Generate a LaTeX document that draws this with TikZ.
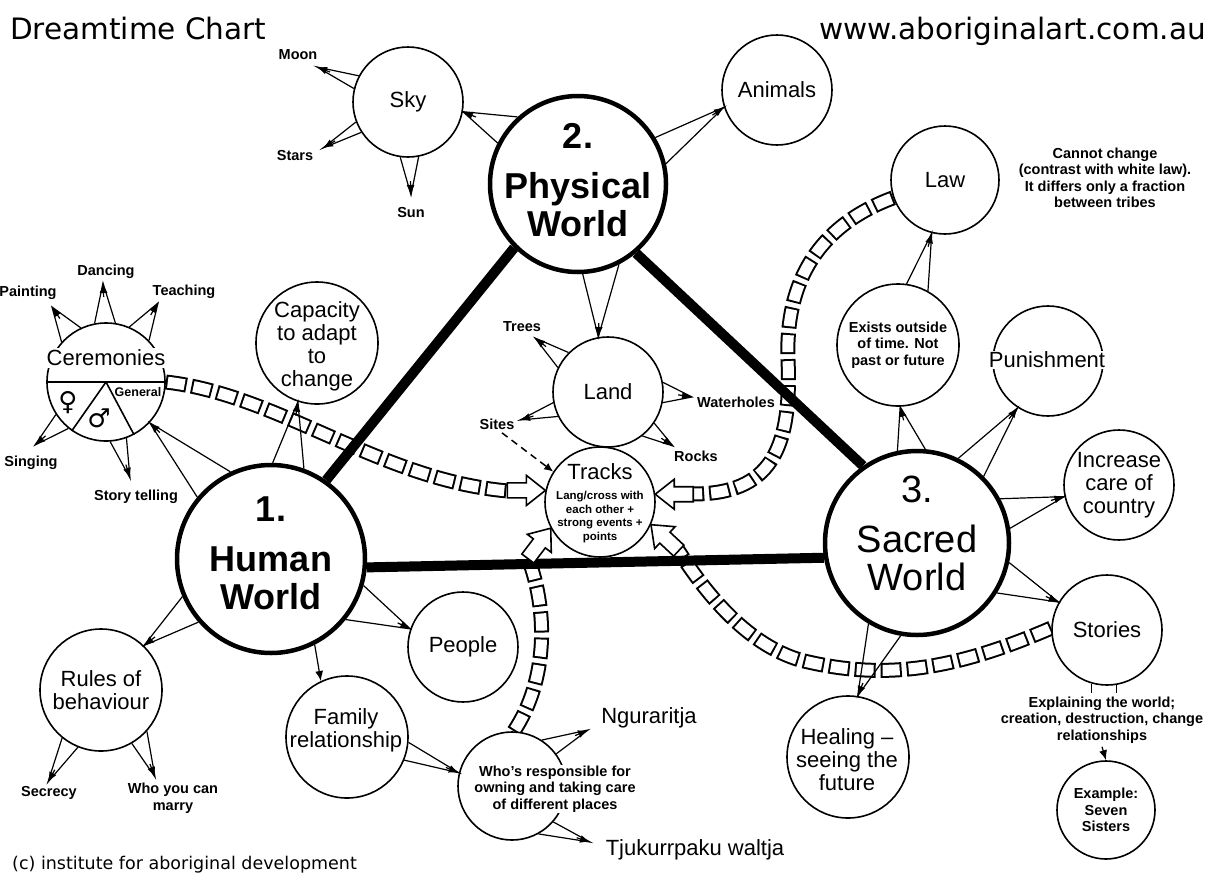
\documentclass[tikz,border=0pt]{standalone}
\usepackage{fontspec}
\setmainfont{Liberation Sans}
\newfontfamily\webfont{DejaVu Sans}
\usetikzlibrary{arrows.meta,calc,backgrounds}

\newcommand{\fanarrow}[3]{%
  \coordinate (fanmid) at ($(#1)!.5!(#2)$);
  \draw[fanline] (#1) -- (#3) -- (#2);
  \draw[fanhead] ($(#3)!14pt!(fanmid)$) -- (#3);
}
\newcommand{\blockarrow}[2]{%
  \draw[line width=1.6pt, fill=white, line join=miter, shift={(#1)}, rotate=#2]
    (0,0) -- (-19,-15) -- (-19,-7.5) -- (-38,-7.5) -- (-38,7.5) -- (-19,7.5) -- (-19,15) -- cycle;
}

\begin{document}
\begin{tikzpicture}[x=1pt, y=-1pt,
    bubble/.style={circle, draw, fill=white, line width=1.6pt, inner sep=0pt, minimum size=#1},
    world/.style={circle, draw, fill=white, line width=4.5pt, inner sep=0pt, minimum size=#1},
    bigtxt/.style={align=center, font=\fontsize{36}{38}\selectfont\bfseries},
    midtxt/.style={align=center, font=\fontsize{22}{23}\selectfont},
    smalltxt/.style={align=center, font=\fontsize{14.5}{16.5}\selectfont\bfseries},
    tinytxt/.style={align=center, font=\fontsize{11.5}{13.6}\selectfont\bfseries},
    fanline/.style={line width=1.2pt},
    fanhead/.style={line width=1.2pt, -{Latex[length=10pt, width=8pt]}},
    thickline/.style={line width=10pt},
    chainlink/.style={line width=15pt, dash pattern=on 21pt off 5pt,
      postaction={draw=white, line width=11pt, dash pattern=on 17pt off 9pt, dash phase=24pt}}]
  \useasboundingbox (0,0) rectangle (1213,876);

  \node[anchor=base west, inner sep=0pt, font=\webfont\fontsize{29.5}{30}\selectfont] (title) at (10,39) {Dreamtime Chart};
  \node[anchor=base east, inner sep=0pt, font=\webfont\fontsize{29.5}{30}\selectfont] (site) at (1206,39) {www.aboriginalart.com.au};
  \node[anchor=base west, inner sep=0pt, font=\webfont\fontsize{17.5}{18}\selectfont] (credit) at (12,869) {(c) institute for aboriginal development};

  \node[world=176pt] (phys) at (578,184) {};
  \node[world=188pt] (human) at (271,559) {};
  \node[world=184pt] (sacred) at (917,543) {};
  \node[bigtxt] (physT) at (578,180) {2.\\[12pt]Physical\\World};
  \node[bigtxt] (humanT) at (271,553) {1.\\[12pt]Human\\World};
  \node[bigtxt, font=\fontsize{38}{38}\selectfont] (sacredT) at (917,533) {3.\\[12pt]Sacred\\World};

  \node[bubble=110pt, midtxt] (sky) at (408,102) {Sky};
  \node[bubble=110pt, midtxt] (animals) at (777,90) {Animals};
  \node[bubble=110pt, midtxt] (land) at (608,392) {Land};
  \node[bubble=110pt] (tracks) at (600,502) {};
  \node[midtxt] (tracksT) at (600,472) {Tracks};
  \node[tinytxt] (tracksnote) at (600,517) {Lang/cross with\\each other +\\strong events +\\points};
  \node[bubble=108pt, midtxt] (law) at (945,180) {Law};
  \node[bubble=122pt, smalltxt] (exists) at (898,345) {Exists outside\\of time. Not\\past or future};
  \node[bubble=110pt] (punish) at (1048,361) {};
  \node[midtxt, fill=white, inner sep=1pt] (punishT) at (1047,360) {Punishment};
  \node[bubble=110pt, midtxt] (increase) at (1119,485) {Increase\\care of\\country};
  \node[bubble=110pt, midtxt] (stories) at (1107,630) {Stories};
  \node[bubble=98pt, smalltxt] (example) at (1106,810) {Example:\\Seven\\Sisters};
  \node[bubble=122pt] (healing) at (848,757) {};
  \node[midtxt] (healingT) at (847,760) {Healing --\\seeing the\\future};
  \node[bubble=122pt] (capacity) at (317,343) {};
  \node[midtxt] (capacityT) at (317,346) {Capacity\\to adapt\\to\\change};
  \node[bubble=122pt, midtxt] (rules) at (101,690) {Rules of\\behaviour};
  \node[bubble=122pt] (family) at (347,737) {};
  \node[midtxt] (familyT) at (346,730) {Family\\relationship};
  \node[bubble=110pt, midtxt] (people) at (463,647) {People};
  \node[bubble=108pt] (whos) at (512,786) {};
  \node[smalltxt, fill=white, inner sep=1pt] (whosT) at (555,789) {Who's responsible for\\owning and taking care\\of different places};

  \node[bubble=118pt] (cer) at (106,382) {};
  \draw[line width=1.6pt] (cer.west) -- (cer.east);
  \draw[line width=1.6pt] (cer.center) -- (cer.235);
  \draw[line width=1.6pt] (cer.center) -- (cer.298);
  \node[midtxt, fill=white, inner sep=2pt] (cerT) at (106,358) {Ceremonies};
  \node[font=\webfont\fontsize{26}{26}\selectfont] (female) at (68,403) {♀};
  \node[font=\webfont\fontsize{26}{26}\selectfont] (male) at (99,418) {♂};
  \node[font=\fontsize{12.5}{13}\selectfont\bfseries] (general) at (138,392) {General};

  \node[smalltxt] (moon) at (298,55) {Moon};
  \node[smalltxt] (stars) at (295,156) {Stars};
  \node[smalltxt] (sun) at (411,213) {Sun};
  \node[smalltxt] (trees) at (522,327) {Trees};
  \node[smalltxt] (sites) at (497,424) {Sites};
  \node[smalltxt] (waterholes) at (736,402) {Waterholes};
  \node[smalltxt] (rocks) at (696,456) {Rocks};
  \node[smalltxt] (painting) at (28,293) {Painting};
  \node[smalltxt] (dancing) at (106,272) {Dancing};
  \node[smalltxt] (teaching) at (184,292) {Teaching};
  \node[smalltxt] (singing) at (31,463) {Singing};
  \node[smalltxt] (storytelling) at (136,497) {Story telling};
  \node[smalltxt] (secrecy) at (49,793) {Secrecy};
  \node[smalltxt] (marry) at (173,798) {Who you can\\marry};
  \node[midtxt] (nguraritja) at (649,718) {Nguraritja};
  \node[midtxt] (tjukurrpaku) at (695,850) {Tjukurrpaku waltja};
  \node[smalltxt] (cannot) at (1105,178) {Cannot change\\(contrast with white law).\\It differs only a fraction\\between tribes};
  \node[smalltxt] (expl) at (1102,720) {Explaining the world;\\creation, destruction, change\\relationships};

  \coordinate (moontip) at (317,67);
  \coordinate (starstip) at (323,148);
  \coordinate (suntip) at (411,195);
  \coordinate (treestip) at (535,338);
  \coordinate (sitestip) at (520,420);
  \coordinate (watertip) at (692,397);
  \coordinate (rockstip) at (673,446);
  \coordinate (painttip) at (52,307);
  \coordinate (dancetip) at (103,283);
  \coordinate (teachtip) at (158,303);
  \coordinate (singtip) at (35,445);
  \coordinate (storytip) at (130,478);
  \coordinate (secrecytip) at (48,782);
  \coordinate (marrytip) at (155,777);
  \coordinate (ngtip) at (588,730);
  \coordinate (tjtip) at (590,842);

  \coordinate (chainAend) at (508,491);
  \coordinate (chainBend) at (693,494);
  \coordinate (chainCend) at (528,558);
  \coordinate (chainDend) at (678,550);

  \begin{scope}[on background layer]
    \draw[chainlink] (cer.east) .. controls (280,395) and (380,480) .. (chainAend);
    \draw[chainlink] (law.199) .. controls (820,225) and (785,280) .. (788,360)
      .. controls (792,450) and (770,494) .. (chainBend);
    \draw[chainlink] (whos.88) .. controls (548,680) and (548,610) .. (chainCend);
    \draw[chainlink] (stories.178) .. controls (950,672) and (880,680) .. (800,660)
      .. controls (750,645) and (710,600) .. (chainDend);
    \draw[thickline] (phys.225) -- (human.55);
    \draw[thickline] (phys.310) -- (sacred.125);
    \draw[thickline] (human.355) -- (sacred.189);
  \end{scope}

  \blockarrow{tracks.168}{0}
  \blockarrow{tracks.8}{180}
  \blockarrow{tracks.208}{53}
  \blockarrow{tracks.336}{137}

  \fanarrow{phys.132}{phys.153}{sky.350}
  \fanarrow{phys.31}{phys.13}{animals.198}
  \fanarrow{phys.273}{phys.297}{land.100}
  \fanarrow{sky.152}{sky.166}{moontip}
  \fanarrow{sky.201}{sky.213}{starstip}
  \fanarrow{sky.262}{sky.281}{suntip}
  \fanarrow{land.154}{land.135}{treestip}
  \fanarrow{land.10}{land.349}{watertip}
  \fanarrow{land.191}{land.206}{sitestip}
  \fanarrow{land.308}{land.326}{rockstip}
  \draw[line width=1.5pt, dash pattern=on 7pt off 5pt, -{Latex[length=9pt, width=8pt]}] ([xshift=5pt]sites.south) -- (tracks.147);

  \fanarrow{human.140}{human.115}{cer.317}
  \fanarrow{human.89}{human.70}{capacity.252}
  \fanarrow{human.203}{human.221}{rules.46}
  \fanarrow{human.344}{human.321}{people.161}
  \draw[fanhead] (human.297) -- (family.115);
  \fanarrow{cer.138}{cer.115}{painttip}
  \fanarrow{cer.101}{cer.81}{dancetip}
  \fanarrow{cer.67}{cer.44}{teachtip}
  \fanarrow{cer.213}{cer.231}{singtip}
  \fanarrow{cer.274}{cer.290}{storytip}
  \fanarrow{rules.231}{rules.248}{secrecytip}
  \fanarrow{rules.300}{rules.318}{marrytip}
  \fanarrow{family.355}{family.338}{whos.166}
  \fanarrow{whos.57}{whos.36}{ngtip}
  \fanarrow{whos.319}{whos.299}{tjtip}

  \fanarrow{sacred.102}{sacred.85}{exists.272}
  \fanarrow{exists.82}{exists.61}{law.256}
  \fanarrow{sacred.64}{sacred.45}{punish.237}
  \fanarrow{sacred.28}{sacred.9}{increase.192}
  \fanarrow{sacred.348}{sacred.328}{stories.150}
  \fanarrow{sacred.239}{sacred.260}{healing.81}
  \draw[line width=1.3pt] (stories.254) -- (stories.254 |- expl.north);
  \draw[line width=1.3pt] (stories.280) -- (stories.280 |- expl.north);
  \draw[fanhead] (expl.south) -- (example.north);
\end{tikzpicture}
\end{document}
